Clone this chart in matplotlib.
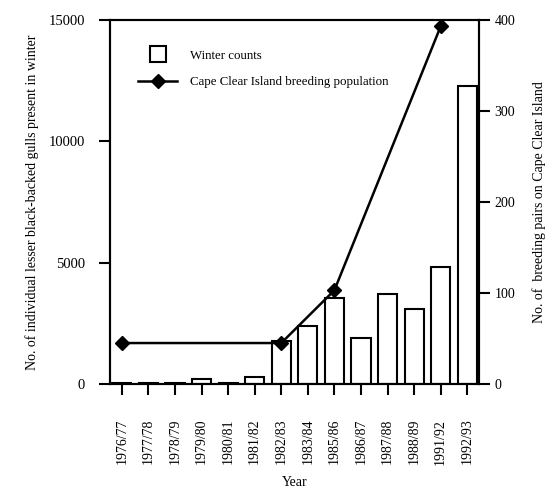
import matplotlib.pyplot as plt
from matplotlib.lines import Line2D
import numpy as np

plt.rcParams["font.family"] = ["Liberation Serif", "DejaVu Serif"]
plt.rcParams["font.size"] = 9

seasons = ["1976/77", "1977/78", "1978/79", "1979/80", "1980/81", "1981/82",
           "1982/83", "1983/84", "1985/86", "1986/87", "1987/88", "1988/89",
           "1991/92", "1992/93"]
winter_counts = [60, 50, 50, 200, 50, 275, 1770, 2400, 3530, 1900, 3700,
                 3090, 4840, 12300]

breeding_seasons = ["1976/77", "1982/83", "1985/86", "1991/92"]
breeding_pairs = [45, 45, 103, 393]

x = np.arange(len(seasons))
xb = [seasons.index(s) for s in breeding_seasons]

fig = plt.figure(figsize=(5.47, 4.94), dpi=100)
ax = fig.add_axes([0.201, 0.2227, 0.675, 0.7368])

ax.bar(x, winter_counts, width=0.72, facecolor="white",
       edgecolor="black", linewidth=1.5, zorder=2)
ax.set_xlim(-0.45, len(seasons) - 0.55)
ax.set_ylim(0, 15000)
ax.set_yticks([0, 5000, 10000, 15000])
ax.set_xticks(x)
ax.set_xticklabels(seasons, rotation=90)
ax.tick_params(axis="x", direction="out", length=8, width=1.5, pad=17,
               labelsize=10)
ax.tick_params(axis="y", direction="out", length=8, width=1.5, pad=10,
               labelsize=10.5)
ax.set_xlabel("Year", fontsize=10, labelpad=8)
ax.set_ylabel("No. of individual lesser black-backed gulls present in winter",
              fontsize=10, labelpad=7)
for sp in ax.spines.values():
    sp.set_linewidth(1.5)

ax2 = ax.twinx()
ax2.plot(xb, breeding_pairs, color="black", linewidth=1.8,
         marker="D", markersize=7, zorder=3)
ax2.set_ylim(0, 400)
ax2.set_yticks([0, 100, 200, 300, 400])
ax2.tick_params(axis="y", direction="out", length=8, width=1.5, pad=3,
                labelsize=10)
ax2.set_ylabel("No. of  breeding pairs on Cape Clear Island",
               fontsize=10, labelpad=12)
for sp in ax2.spines.values():
    sp.set_linewidth(1.5)

handles = [
    Line2D([], [], linestyle="none", marker="s", markersize=11,
           markerfacecolor="white", markeredgecolor="black",
           markeredgewidth=1.5),
    Line2D([], [], color="black", linewidth=1.8, marker="D", markersize=7),
]
ax.legend(handles, ["Winter counts", "Cape Clear Island breeding population"],
          loc="upper left", bbox_to_anchor=(0.045, 0.95), frameon=False,
          handlelength=3.0, handletextpad=1.0, labelspacing=1.1,
          borderaxespad=0.5, fontsize=9.3)

fig.savefig("out.png", dpi=100)
